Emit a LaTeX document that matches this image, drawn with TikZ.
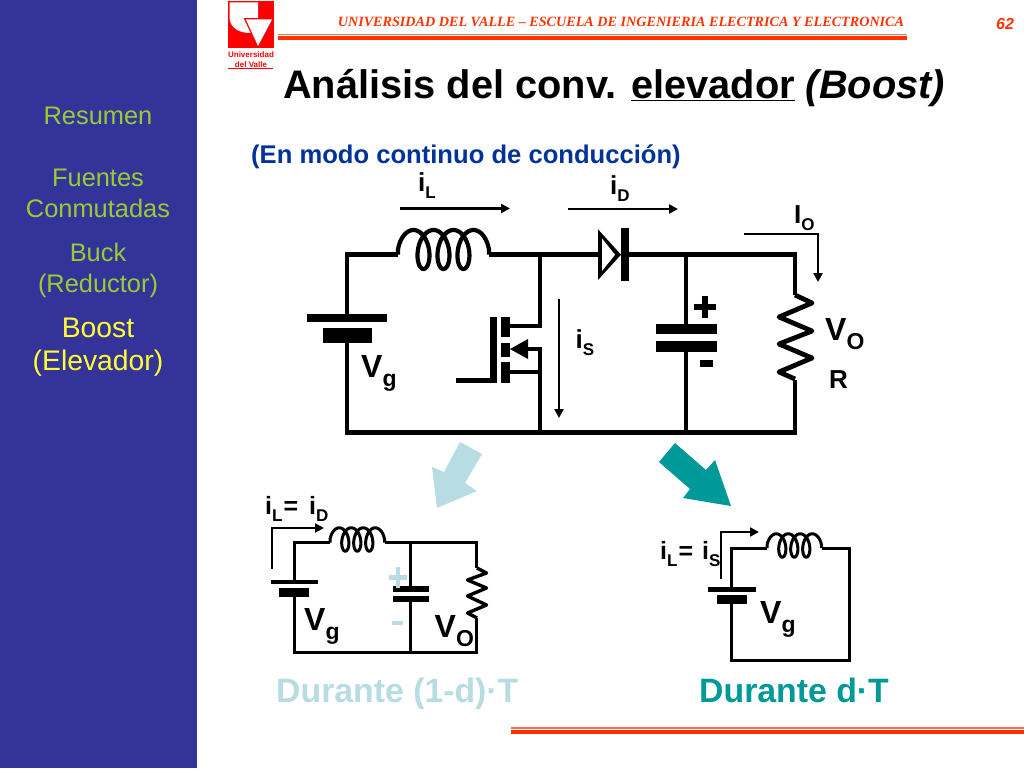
\documentclass[tikz,border=0pt]{standalone}
\usepackage{fontspec}
\setmainfont{Liberation Sans}
\newfontfamily\serifhead{Liberation Serif}
\usetikzlibrary{arrows.meta}
\definecolor{sidebar}{HTML}{333399}
\definecolor{sidegreen}{HTML}{99CC33}
\definecolor{sidebright}{HTML}{FFFF33}
\definecolor{headred}{HTML}{FF3300}
\definecolor{subblue}{HTML}{003399}
\definecolor{paleteal}{HTML}{B7DDE3}
\definecolor{teal2}{HTML}{009999}
\newcommand{\fsz}[1]{\fontsize{#1}{#1}\selectfont}
% start x, centre y, scale, wire y
\newcommand{\coilplot}[4]{(#1,#4) -- plot[domain=0:1260,samples=160,smooth] ({#1+#3*(3.18*\x*pi/180-10.5*cos(\x)+10.5)},{#2-#3*19.5*sin(\x)}) -- ({#1+#3*91},#4)}
\tikzset{
  x=1pt,y=-1pt,
  wire/.style={draw=black,line width=4.6pt,line join=miter},
  coilw/.style={draw=black,line width=4.2pt,line join=round},
  coils/.style={draw=black,line width=3pt,line join=round},
  thinw/.style={draw=black,line width=3pt,line join=miter},
  curr/.style={draw=black,line width=2.5pt,line join=miter,-{Triangle[length=9pt,width=9pt]}},
  curs/.style={draw=black,line width=2.8pt,line join=miter,-{Triangle[length=9pt,width=9pt]}},
  lab/.style={inner sep=0pt,anchor=base west,font=\bfseries\fsz{32}},
  clab/.style={inner sep=0pt,anchor=base west,font=\bfseries\fsz{26}},
  side/.style={inner sep=0pt,align=center,text=sidegreen,font=\fsz{25.4}},
  plate/.style={fill=black,draw=none},
}
\newcommand{\sbs}[1]{\raisebox{-7.5pt}{\fsz{17}#1}}
\newcommand{\sbl}[1]{\raisebox{-9.5pt}{\fsz{23}#1}}
\begin{document}
\begin{tikzpicture}
\useasboundingbox (0,0) rectangle (1024,768);
\fill[white] (0,0) rectangle (1024,768);
\fill[sidebar] (0,0) rectangle (197,768);
% side text
\node[side] (s1) at (98,116) {Resumen};
\node[side] (s2) at (98,193.5) {Fuentes\\[5.5pt]Conmutadas};
\node[side] (s3) at (98,270.5) {Buck\\[5.5pt](Reductor)};
\node[side,text=sidebright,font=\fsz{28.3}] (s4) at (98,347) {Boost\\[5pt](Elevador)};
% header
\node[inner sep=0pt,anchor=base,text=headred,font=\serifhead\bfseries\itshape\fsz{14.15}] (hd) at (621,26.5) {UNIVERSIDAD DEL VALLE – ESCUELA DE INGENIERIA ELECTRICA Y ELECTRONICA};
\node[inner sep=0pt,anchor=base,text=headred,font=\bfseries\itshape\fsz{16}] (pg) at (1005,30) {62};
\fill[headred!70] (278,34) rectangle (907,35.2);
\fill[headred] (278,36) rectangle (907,40.5);
\fill[headred!70] (511,726.7) rectangle (1024,729.2);
\fill[headred] (511,730) rectangle (1024,733.7);
% logo
\fill[red] (228,1) rectangle (274,48);
\fill[white] (229.5,2.5) -- (258,2.5) -- (258,18) -- (243.5,18) -- (250.5,33) .. controls (238,33) and (229.5,27) .. (229.5,17) -- cycle;
\fill[white] (246,19.5) -- (272,19.5) -- (258,46) -- cycle;
\node[inner sep=0pt,anchor=base,text=red,font=\bfseries\fsz{8}] (lg1) at (251,58) {Universidad};
\node[inner sep=0pt,anchor=base,text=red,font=\bfseries\fsz{8}] (lg2) at (251,67) {del Valle};
\fill[red] (228,68) rectangle (273,69);
% title
\node[inner sep=0pt,anchor=base west,font=\bfseries\fsz{39.8}] (ttl) at (283,98) {Análisis del conv. \underline{elevador} \textit{(Boost)}};
\node[inner sep=0pt,anchor=base west,text=subblue,font=\bfseries\fsz{25.6}] (sub) at (251,163) {(En modo continuo de conducción)};
% main circuit
\coordinate (tl) at (347,254.7);
\coordinate (bl) at (347,432.7);
\coordinate (tr) at (795,254.7);
\coordinate (br) at (795,432.7);
\coordinate (ls) at (398,254.7);
\coordinate (le) at (489,254.7);
\coordinate (sw) at (540,254.7);
\coordinate (sb) at (540,432.7);
\coordinate (dl) at (599,254.7);
\coordinate (dr) at (625,254.7);
\coordinate (ct) at (686,254.7);
\coordinate (cb) at (686,432.7);
\path[wire] (ls) -- (tl) -- (bl) -- (br) -- (tr) -- (dr);
\path[wire] (le) -- (dl);
\path[coilw] \coilplot{398}{249.5}{1}{254.7};
% battery
\fill[white] (340,322) rectangle (354,328);
\fill[plate] (307,314) rectangle (387,322);
\fill[plate] (323,328) rectangle (372,343);
% switch
\path[wire] (sw) -- (540,326) -- (510,326);
\path[wire] (sb) -- (540,349) -- (528,349);
\path[wire] (540,372) -- (510,372);
\fill[plate] (510,349) -- (528,339) -- (528,359) -- cycle;
\fill[plate] (490,317) rectangle (497,383);
\fill[plate] (456,378) rectangle (497,383);
\fill[plate] (501,317) rectangle (510,337);
\fill[plate] (501,343) rectangle (510,357);
\fill[plate] (501,362) rectangle (510,383);
% diode
\fill[plate] (598,229.3) -- (621,254.7) -- (598,280) -- cycle;
\fill[white] (602,238.5) -- (615,254.7) -- (602,271) -- cycle;
\fill[plate] (621,228) rectangle (628.5,281);
% capacitor
\fill[white] (680,334) rectangle (692,341);
\path[wire] (ct) -- (686,324);
\path[wire] (cb) -- (686,352);
\fill[plate] (656,324) rectangle (717,334);
\fill[plate] (656,341) rectangle (717,352);
\fill[plate] (694,304.3) rectangle (716,309.8);
\fill[plate] (702.2,296) rectangle (707.8,318);
\fill[plate] (700,360) rectangle (713,367);
% resistor
\fill[white] (790,295) rectangle (800,380);
\draw[line width=4.8pt,line join=round] (795,295) -- (812,303) -- (779,317) -- (812,331) -- (779,344) -- (812,358) -- (779,372) -- (795,379);
% current arrows
\coordinate (a1) at (400,208.5); \coordinate (a2) at (510,208.5);
\coordinate (b1) at (568,209); \coordinate (b2) at (678,209);
\coordinate (c1) at (559,299); \coordinate (c2) at (559,418);
\coordinate (d1) at (744,234); \coordinate (d2) at (818,234); \coordinate (d3) at (818,282);
\path[curr] (a1) -- (a2);
\path[curr] (b1) -- (b2);
\path[curr] (c1) -- (c2);
\path[curr] (d1) -- (d2) -- (d3);
\node[clab] (liL) at (418,191) {i\sbs{L}};
\node[clab] (liD) at (610,194) {i\sbs{D}};
\node[clab] (liS) at (575.5,348) {i\sbs{S}};
\node[clab] (lIO) at (794,223) {I\sbs{O}};
\node[lab] (lVg) at (361,377) {V\sbl{g}};
\node[lab] (lVO) at (825,340) {V\sbl{O}};
\node[inner sep=0pt,anchor=base west,font=\bfseries\fsz{26}] (lR) at (829,388) {R};
% big arrows
\fill[paleteal] (460,442) -- (482,454) -- (465,483) -- (477,491) -- (437,508) -- (432,467) -- (444,472) -- cycle;
\fill[teal2] (675,443) -- (659,462) -- (690,489) -- (683,498) -- (731,506) -- (715,460) -- (706,470) -- cycle;
% lower-left circuit
\coordinate (Lls) at (330,542.7);
\coordinate (Lle) at (385,542.7);
\coordinate (Ltl) at (294,542.7);
\coordinate (Lbl) at (294,652);
\coordinate (Ltr) at (476.7,542.7);
\coordinate (Lbr) at (476.7,652);
\path[thinw] (Lls) -- (Ltl) -- (Lbl) -- (Lbr) -- (Ltr) -- (Lle);
\path[coils] \coilplot{330}{539.5}{0.6}{542.7};
\fill[white] (290,584) rectangle (298,588);
\fill[plate] (271,580) rectangle (318,584);
\fill[plate] (279,588) rectangle (309,597);
\path[thinw] (410.7,542.7) -- (410.7,652);
\fill[white] (405,592) rectangle (416,596);
\fill[plate] (393,586) rectangle (429,592);
\fill[plate] (393,596) rectangle (429,602);
\fill[paleteal] (389,575) rectangle (407,579.5);
\fill[paleteal] (395.7,567) rectangle (400.3,588);
\fill[paleteal] (392,621) rectangle (403,625);
\fill[white] (473,568) rectangle (480,618);
\draw[line width=3.4pt,line join=round] (477,568) -- (486.5,573) -- (467.5,580) -- (486.5,588) -- (467.5,596) -- (486.5,605) -- (467.5,613) -- (477,618);
\coordinate (e1) at (272,569); \coordinate (e2) at (272,528); \coordinate (e3) at (324,528);
\path[curs] (e1) -- (e2) -- (e3);
\node[clab,font=\bfseries\fsz{25}] (lL1) at (265,514) {i\sbs{L}\kern1pt=\hspace{11pt}i\sbs{D}};
\node[lab] (lV2) at (304,630) {V\sbl{g}};
\node[lab] (lV3) at (434.5,637) {V\sbl{O}};
% lower-right circuit
\coordinate (Rls) at (767,548);
\coordinate (Rle) at (822,548);
\coordinate (Rtl) at (731,548);
\coordinate (Rbl) at (731,660);
\coordinate (Rtr) at (849,548);
\coordinate (Rbr) at (849,660);
\path[thinw] (Rls) -- (Rtl) -- (Rbl) -- (Rbr) -- (Rtr) -- (Rle);
\path[coils] \coilplot{767}{545.5}{0.6}{548};
\fill[white] (727,592) rectangle (735,595);
\fill[plate] (708,587) rectangle (756,592);
\fill[plate] (717,595) rectangle (747,604);
\coordinate (f1) at (721,579); \coordinate (f2) at (721,532); \coordinate (f3) at (759,532);
\path[curs] (f1) -- (f2) -- (f3);
\node[clab,font=\bfseries\fsz{25}] (lL2) at (660,559) {i\sbs{L}\kern1pt=\hspace{9pt}i\sbs{S}};
\node[lab] (lV4) at (760,623) {V\sbl{g}};
% captions
\node[inner sep=0pt,anchor=base west,text=paleteal,font=\bfseries\fsz{33.8}] (cap1) at (276,702) {Durante (1-d)·T};
\node[inner sep=0pt,anchor=base west,text=teal2,font=\bfseries\fsz{33.8}] (cap2) at (699,702) {Durante d·T};
\end{tikzpicture}
\end{document}
